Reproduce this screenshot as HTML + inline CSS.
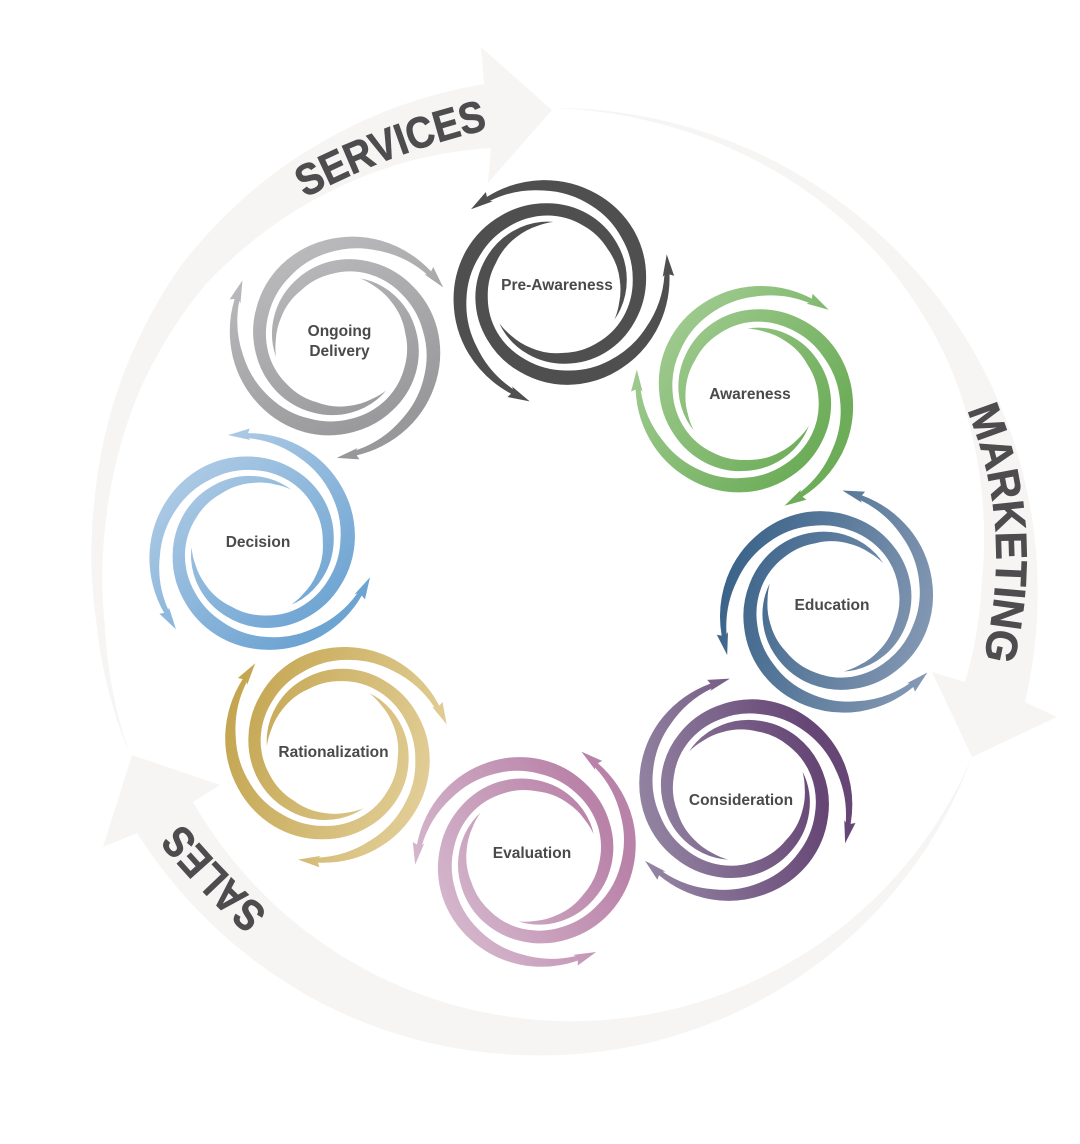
<!DOCTYPE html>
<html lang="en"><head><meta charset="utf-8"><title>Cycle</title>
<style>html,body{margin:0;padding:0;background:#fff}svg{display:block}
.l{font:bold 15.5px "Liberation Sans",sans-serif;fill:#4a4a4c;text-anchor:middle}
.b{font:bold 44px "Liberation Sans",sans-serif;fill:#4d4d4f;stroke:#4d4d4f;stroke-width:.7}</style></head>
<body>
<svg xmlns="http://www.w3.org/2000/svg" width="1080" height="1144" viewBox="0 0 1080 1144">
<defs>
<path id="arm" d="M116 0L116.8 22.7L112.8 19.9A112 112 0 0 1 83.5 70.1A106 106 0 0 1 35.2 96.8A100 100 0 0 1 -16.9 95.8A94 94 0 0 1 -58.5 69.7A88 88 0 0 1 -80.5 29.3A83 83 0 0 1 -79.8 -14.1A78 78 0 0 1 -58.2 -48.9A73 73 0 0 1 -24.5 -67.2A70 70 0 0 1 5.9 -67.7A67 67 0 0 1 17.2 -64.2A66 66 0 0 0 0 -65A64 64 0 0 0 -22.1 -60.6A64 64 0 0 0 -49.8 -41.8A66 66 0 0 0 -67.5 -11.9A70 70 0 0 0 -68.9 25.1A75 75 0 0 0 -49.8 59.4A80 80 0 0 0 -14.4 81.5A86 86 0 0 0 30.8 84.6A94 94 0 0 0 75.5 63.3A104 104 0 0 0 107.8 19L105.5 20.5Z"/>
<g id="sw"><use href="#arm" transform="rotate(-137)"/><use href="#arm" transform="rotate(-17)"/><use href="#arm" transform="rotate(103)"/></g>
<linearGradient id="g1" x1="0" y1="0" x2="1" y2=".8"><stop offset=".1" stop-color="#aad19b"/><stop offset=".8" stop-color="#6dad59"/></linearGradient>
<linearGradient id="g2" x1="0" y1=".3" x2="1" y2=".6"><stop offset=".1" stop-color="#3a6389"/><stop offset=".9" stop-color="#8498b3"/></linearGradient>
<linearGradient id="g3" x1="0" y1=".6" x2="1" y2=".4"><stop offset=".1" stop-color="#9485a3"/><stop offset=".8" stop-color="#664675"/></linearGradient>
<linearGradient id="g4" x1="0" y1=".85" x2="1" y2=".3"><stop offset=".15" stop-color="#d6b9ce"/><stop offset=".8" stop-color="#b982a8"/></linearGradient>
<linearGradient id="g5" x1="0" y1=".35" x2="1" y2=".7"><stop offset=".1" stop-color="#c4a651"/><stop offset=".85" stop-color="#e1cd95"/></linearGradient>
<linearGradient id="g6" x1="0" y1="0" x2=".9" y2="1"><stop offset=".1" stop-color="#bad2e9"/><stop offset=".8" stop-color="#6ea4d2"/></linearGradient>
<linearGradient id="g7" x1=".2" y1="0" x2=".7" y2="1"><stop offset=".1" stop-color="#bdbdbf"/><stop offset=".85" stop-color="#98989a"/></linearGradient>
<mask id="m1" maskUnits="userSpaceOnUse" x="0" y="0" width="1080" height="1144"><use href="#sw" fill="#fff" transform="translate(750 395) rotate(-4.3) scale(-1 1)"/></mask>
<mask id="m2" maskUnits="userSpaceOnUse" x="0" y="0" width="1080" height="1144"><use href="#sw" fill="#fff" transform="translate(832.3 606) rotate(52)"/></mask>
<mask id="m3" maskUnits="userSpaceOnUse" x="0" y="0" width="1080" height="1144"><use href="#sw" fill="#fff" transform="translate(740 794.2) rotate(-52) scale(-1 1)"/></mask>
<mask id="m4" maskUnits="userSpaceOnUse" x="0" y="0" width="1080" height="1144"><use href="#sw" fill="#fff" transform="translate(530.9 856.1) rotate(-47.2)"/></mask>
<mask id="m5" maskUnits="userSpaceOnUse" x="0" y="0" width="1080" height="1144"><use href="#sw" fill="#fff" transform="translate(333.3 749.1) rotate(30.7) scale(-1 1)"/></mask>
<mask id="m6" maskUnits="userSpaceOnUse" x="0" y="0" width="1080" height="1144"><use href="#sw" fill="#fff" transform="translate(258 547.2) rotate(32)"/></mask>
<mask id="m7" maskUnits="userSpaceOnUse" x="0" y="0" width="1080" height="1144"><use href="#sw" fill="#fff" transform="translate(340.8 341.9) rotate(15) scale(-1 1)"/></mask>
<path id="t1" d="M305 198Q395 150 494 128"/>
<path id="t2" d="M967 410Q1016 530 983 660"/>
<path id="t3" d="M268 912Q222 872 180 820"/>
</defs>
<rect width="1080" height="1144" fill="#fff"/>
<g fill="#f7f5f3">
<path d="M130 755A466 466 0 0 1 96.8 625.8A472 472 0 0 1 94.2 502.4A480 480 0 0 1 121.6 379.2A492 492 0 0 1 181.5 264.9A500 500 0 0 1 274.5 173A505 505 0 0 1 389.9 109.5A507 507 0 0 1 484 84L481 47L552 110L488 183L491 148A447 447 0 0 0 408.8 161.2A455 455 0 0 0 299.1 208.2A463 463 0 0 0 205.3 284.8A466 466 0 0 0 140.7 388.1A464 464 0 0 0 108 504.8A461 461 0 0 0 104.8 625.1A462 462 0 0 0 130 755Z"/>
<path d="M552 108A484 484 0 0 1 1025 702L1057 717L972 757L932 672L965 682A416 416 0 0 0 982 580A425 425 0 0 0 979.3 473.5A438 438 0 0 0 948.4 362.5A450 450 0 0 0 885.4 262.6A460 460 0 0 0 795 183.2A468 468 0 0 0 657 123A474 474 0 0 0 552 108Z"/>
<path d="M972 757A448 448 0 0 1 882.6 904.6A457 457 0 0 1 721 1019.1A466 466 0 0 1 538.3 1055.4A477 477 0 0 1 321.5 1003.3A488 488 0 0 1 137 833L103 847L132 755L220 785L193 802A436 436 0 0 0 972 757Z"/>
</g>
<text class="b"><textPath href="#t1" textLength="196" lengthAdjust="spacingAndGlyphs">SERVICES</textPath></text>
<text class="b"><textPath href="#t2" textLength="254" lengthAdjust="spacingAndGlyphs">MARKETING</textPath></text>
<text class="b"><textPath href="#t3" textLength="124" lengthAdjust="spacingAndGlyphs">SALES</textPath></text>
<use href="#sw" fill="#4f4f50" transform="translate(555.8 288.3)"/>
<rect x="620" y="265" width="260" height="260" fill="url(#g1)" mask="url(#m1)"/>
<rect x="702" y="476" width="260" height="260" fill="url(#g2)" mask="url(#m2)"/>
<rect x="610" y="664" width="260" height="260" fill="url(#g3)" mask="url(#m3)"/>
<rect x="401" y="726" width="260" height="260" fill="url(#g4)" mask="url(#m4)"/>
<rect x="203" y="619" width="260" height="260" fill="url(#g5)" mask="url(#m5)"/>
<rect x="128" y="417" width="260" height="260" fill="url(#g6)" mask="url(#m6)"/>
<rect x="211" y="212" width="260" height="260" fill="url(#g7)" mask="url(#m7)"/>
<text class="l" x="557" y="290">Pre-Awareness</text>
<text class="l" x="750" y="399">Awareness</text>
<text class="l" x="832" y="610">Education</text>
<text class="l" x="741" y="805">Consideration</text>
<text class="l" x="532" y="858">Evaluation</text>
<text class="l" x="333.5" y="757">Rationalization</text>
<text class="l" x="258" y="547">Decision</text>
<text class="l" x="339.5" y="336">Ongoing</text>
<text class="l" x="339.5" y="356">Delivery</text>
</svg>
</body></html>
